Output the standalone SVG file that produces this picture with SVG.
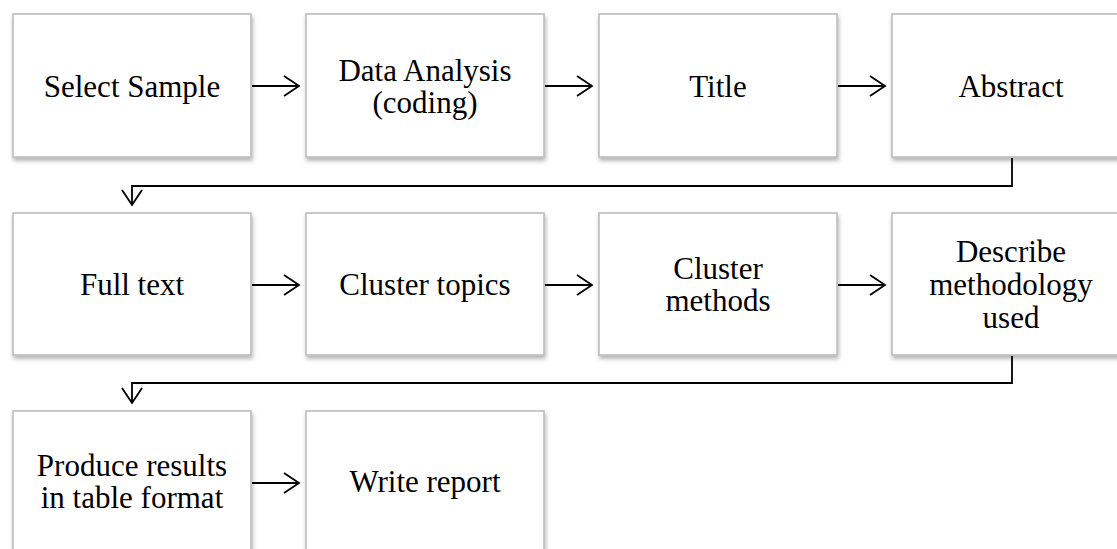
<svg xmlns="http://www.w3.org/2000/svg" width="1117" height="549" viewBox="0 0 1117 549">
<style>
.box{fill:#ffffff;stroke:#bcbcbc;stroke-width:1.6;filter:url(#sh)}
.t{font-family:"Liberation Serif","Times New Roman",serif;font-size:31px;fill:#000;text-anchor:middle}
.c{fill:none;stroke:#000;stroke-width:1.8}
</style>
<defs>
<filter id="sh" x="-10%" y="-10%" width="120%" height="125%">
<feDropShadow dx="1" dy="3" stdDeviation="2" flood-color="#000" flood-opacity="0.3"/>
</filter>
<marker id="ah" viewBox="0 0 20 24" refX="18" refY="12" markerWidth="20" markerHeight="24" markerUnits="userSpaceOnUse" orient="auto">
<path d="M3,2 L18,12 L3,22" fill="none" stroke="#000" stroke-width="1.8"/>
</marker>
</defs>
<rect width="1117" height="549" fill="#fff"/>
<g id="n1"><rect class="box" x="13" y="14" width="238" height="143"/><text class="t" x="132" y="97">Select Sample</text></g>
<g id="n2"><rect class="box" x="306" y="14" width="238" height="143"/><text class="t" x="425" y="81">Data Analysis</text><text class="t" x="425" y="113">(coding)</text></g>
<g id="n3"><rect class="box" x="599" y="14" width="238" height="143"/><text class="t" x="718" y="97">Title</text></g>
<g id="n4"><rect class="box" x="892" y="14" width="238" height="143"/><text class="t" x="1011" y="97">Abstract</text></g>
<g id="n5"><rect class="box" x="13" y="213" width="238" height="142"/><text class="t" x="132" y="295">Full text</text></g>
<g id="n6"><rect class="box" x="306" y="213" width="238" height="142"/><text class="t" x="425" y="295">Cluster topics</text></g>
<g id="n7"><rect class="box" x="599" y="213" width="238" height="142"/><text class="t" x="718" y="279">Cluster</text><text class="t" x="718" y="311">methods</text></g>
<g id="n8"><rect class="box" x="892" y="213" width="238" height="142"/><text class="t" x="1011" y="262">Describe</text><text class="t" x="1011" y="295">methodology</text><text class="t" x="1011" y="328">used</text></g>
<g id="n9"><rect class="box" x="13" y="411" width="238" height="145"/><text class="t" x="132" y="476">Produce results</text><text class="t" x="132" y="508">in table format</text></g>
<g id="n10"><rect class="box" x="306" y="411" width="238" height="145"/><text class="t" x="425" y="492">Write report</text></g>
<g id="connectors">
<line class="c" x1="252" y1="86" x2="299" y2="86" marker-end="url(#ah)"/>
<line class="c" x1="545" y1="86" x2="592" y2="86" marker-end="url(#ah)"/>
<line class="c" x1="838" y1="86" x2="885" y2="86" marker-end="url(#ah)"/>
<polyline class="c" points="1012,158 1012,186 132,186 132,205" marker-end="url(#ah)"/>
<line class="c" x1="252" y1="285" x2="299" y2="285" marker-end="url(#ah)"/>
<line class="c" x1="545" y1="285" x2="592" y2="285" marker-end="url(#ah)"/>
<line class="c" x1="838" y1="285" x2="885" y2="285" marker-end="url(#ah)"/>
<polyline class="c" points="1012,356 1012,383 132,383 132,403" marker-end="url(#ah)"/>
<line class="c" x1="252" y1="483" x2="299" y2="483" marker-end="url(#ah)"/>
</g>
</svg>
